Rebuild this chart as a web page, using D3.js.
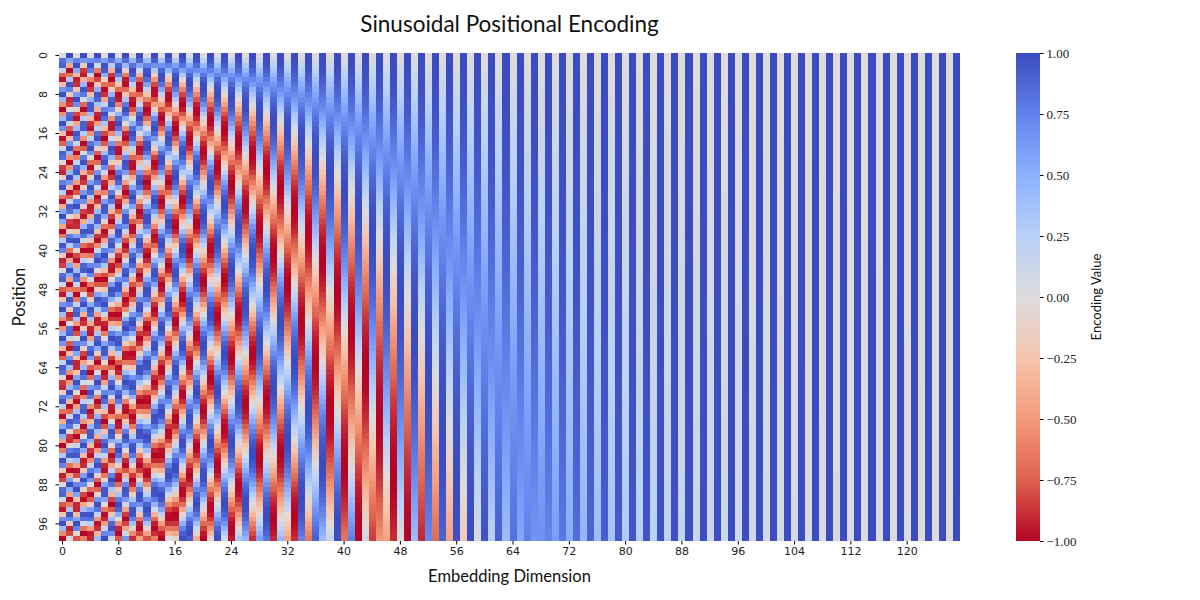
<!DOCTYPE html>
<html>
<head>
<meta charset="utf-8">
<script src="https://cdn.jsdelivr.net/npm/d3@7"></script>
<style>
  body { margin: 0; background: #ffffff; }
  svg { display: block; }
</style>
</head>
<body>
<div id="chart"></div>
<script>
// chart parameters
const title = "Sinusoidal Positional Encoding";
const xLabel = "Embedding Dimension";
const yLabel = "Position";
const cbLabel = "Encoding Value";
const positions = d3.range(0, 100);          // rows 0..99
const dimensions = d3.range(0, 128);         // columns 0..127
const encodingBase = 10000;
const xTickValues = [0, 8, 16, 24, 32, 40, 48, 56, 64, 72, 80, 88, 96, 104, 112, 120];
const yTickValues = [0, 8, 16, 24, 32, 40, 48, 56, 64, 72, 80, 88, 96];
const cbTickValues = [1.0, 0.75, 0.5, 0.25, 0.0, -0.25, -0.5, -0.75, -1.0];
// coolwarm stops (low -> high), used reversed so -1 is red and +1 is blue
const coolwarmStops = ["#3b4cc0", "#6282ea", "#8db0fe", "#b8d0f9", "#dddcdc", "#f5c4ac", "#f49a7b", "#de614d", "#b40426"];

function initHeatmap() {
    const width = 1200, height = 600;
    const plot = { left: 59, top: 53, right: 960, bottom: 541 };
    const cbar = { left: 1016, right: 1040 };

    const svg = d3.select("#chart").append("svg").attr("width", width).attr("height", height);

    // the encoding itself (sin on even dims, cos on odd dims)
    const cells = [];
    positions.forEach(p => {
        dimensions.forEach(j => {
            const i2 = j - (j % 2);
            const angle = p / Math.pow(encodingBase, i2 / dimensions.length);
            cells.push({ p, j, v: j % 2 === 0 ? Math.sin(angle) : Math.cos(angle) });
        });
    });

    const x = d3.scaleBand().domain(dimensions).range([plot.left, plot.right]);
    const y = d3.scaleBand().domain(positions).range([plot.top, plot.bottom]);

    const coolwarm = d3.scaleLinear().domain(d3.range(coolwarmStops.length).map(i => i / (coolwarmStops.length - 1))).range(coolwarmStops).interpolate(d3.interpolateRgb);
    const color = v => coolwarm((1 - v) / 2);

    svg.append("g").selectAll("rect").data(cells).join("rect")
        .attr("x", d => x(d.j)).attr("y", d => y(d.p))
        .attr("width", x.bandwidth() + 0.4).attr("height", y.bandwidth() + 0.4)
        .attr("fill", d => color(d.v)).attr("shape-rendering", "crispEdges");

    const sans = "'DejaVu Sans', sans-serif";
    const labelFont = "Lato, 'Open Sans', sans-serif";

    // x axis
    const xAxis = svg.append("g").attr("transform", `translate(0,${plot.bottom})`)
        .call(d3.axisBottom(x).tickValues(xTickValues).tickSize(3.5).tickPadding(3));
    xAxis.select(".domain").remove();
    xAxis.selectAll("text").style("font-family", sans).style("font-size", "11px").attr("fill", "#222");

    // y axis, labels rotated like the reference
    const yAxis = svg.append("g").attr("transform", `translate(${plot.left},0)`)
        .call(d3.axisLeft(y).tickValues(yTickValues).tickSize(3.5).tickPadding(3));
    yAxis.select(".domain").remove();
    yAxis.selectAll(".tick text").each(function () {
        d3.select(this).attr("x", null).attr("y", null).attr("dy", null)
            .attr("text-anchor", "middle").attr("dominant-baseline", "central")
            .attr("transform", "translate(-16,0) rotate(-90)");
    });
    yAxis.selectAll("text").style("font-family", sans).style("font-size", "11px").attr("fill", "#222");

    svg.append("text").attr("x", (plot.left + plot.right) / 2).attr("y", 32).attr("text-anchor", "middle")
        .style("font-family", labelFont).style("font-size", "22.5px").attr("fill", "#111").text(title);
    svg.append("text").attr("x", (plot.left + plot.right) / 2).attr("y", 582).attr("text-anchor", "middle")
        .style("font-family", labelFont).style("font-size", "16.5px").attr("fill", "#111").text(xLabel);
    svg.append("text").attr("transform", `translate(25,${(plot.top + plot.bottom) / 2}) rotate(-90)`).attr("text-anchor", "middle")
        .style("font-family", labelFont).style("font-size", "16.5px").attr("fill", "#111").text(yLabel);

    // colorbar
    const cbScale = d3.scaleLinear().domain([-1, 1]).range([plot.bottom, plot.top]);
    const grad = svg.append("defs").append("linearGradient").attr("id", "cbgrad")
        .attr("x1", 0).attr("y1", 1).attr("x2", 0).attr("y2", 0);
    d3.range(0, 1.0001, 0.02).forEach(t => {
        grad.append("stop").attr("offset", t).attr("stop-color", color(-1 + 2 * t));
    });
    svg.append("rect").attr("x", cbar.left).attr("y", plot.top).attr("width", cbar.right - cbar.left)
        .attr("height", plot.bottom - plot.top).attr("fill", "url(#cbgrad)");

    const cbAxis = svg.append("g").attr("transform", `translate(${cbar.right},0)`)
        .call(d3.axisRight(cbScale).tickValues(cbTickValues).tickSize(3.5).tickPadding(3)
            .tickFormat(v => (v < 0 ? "\u2212" : "") + Math.abs(v).toFixed(2)));
    cbAxis.select(".domain").remove();
    cbAxis.selectAll("text").style("font-family", "'Liberation Serif', 'DejaVu Serif', serif").style("font-size", "13px").attr("fill", "#222");

    svg.append("text").attr("transform", `translate(1101,${(plot.top + plot.bottom) / 2}) rotate(-90)`).attr("text-anchor", "middle")
        .style("font-family", labelFont).style("font-size", "13px").attr("fill", "#111").text(cbLabel);
}

initHeatmap();
</script>
</body>
</html>
